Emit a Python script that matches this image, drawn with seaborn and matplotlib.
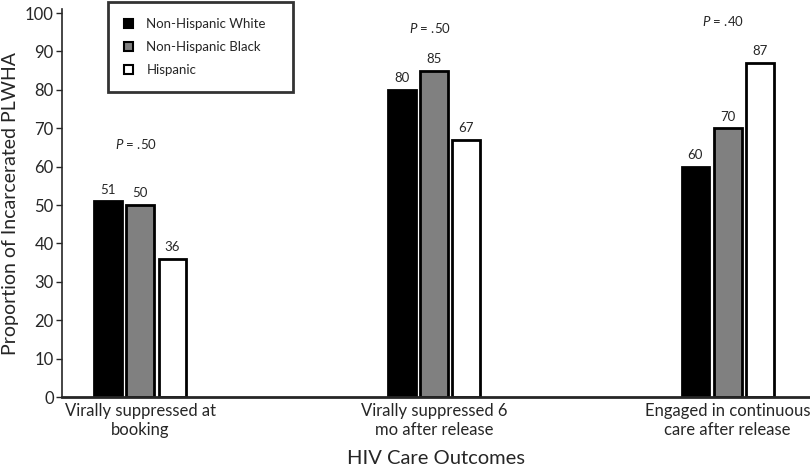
import numpy as np
import pandas as pd
import matplotlib
matplotlib.use("Agg")
import matplotlib.pyplot as plt
import seaborn as sns

# -------- Data --------
OUTCOMES = ["Virally suppressed at\nbooking",
            "Virally suppressed 6\nmo after release",
            "Engaged in continuous\ncare after release"]
GROUPS = ["Non-Hispanic White", "Non-Hispanic Black", "Hispanic"]
WHITE_VALS = [51, 80, 60]
BLACK_VALS = [50, 85, 70]
HISP_VALS = [36, 67, 87]
P_TEXT = [".50", ".50", ".40"]
P_Y = [66, 96, 98]
COLORS = ["#000000", "#808080", "#ffffff"]

rows = []
for i, o in enumerate(OUTCOMES):
    for g, vals in zip(GROUPS, [WHITE_VALS, BLACK_VALS, HISP_VALS]):
        rows.append({"Outcome": o, "Group": g, "Value": vals[i]})
df = pd.DataFrame(rows)

# -------- Plot --------
sns.set_style("white")
plt.rcParams["font.family"] = ["Lato", "DejaVu Sans"]
plt.rcParams["mathtext.fontset"] = "custom"
plt.rcParams["mathtext.it"] = "Lato:italic"

fig = plt.figure(figsize=(8.1, 4.75), dpi=100)
ax = fig.add_axes([62 / 810, 1 - 397 / 475, 1 - 62 / 810, 384 / 475 * 1.01])

sns.barplot(data=df, x="Outcome", y="Value", hue="Group", hue_order=GROUPS,
            palette=COLORS, width=0.33, gap=0.14, edgecolor="black",
            linewidth=2, ax=ax, legend=True)

for cont in ax.containers:
    ax.bar_label(cont, padding=4, fontsize=9.5)

for i, (pt, py) in enumerate(zip(P_TEXT, P_Y)):
    ax.text(i - 0.015, py, r"$\it{P}$ = " + pt, ha="center", va="center", fontsize=9.5)

ax.set_xlim(-0.266, 2.28)
ax.set_ylim(0, 101)
ax.set_yticks(range(0, 101, 10))
ax.tick_params(axis="y", length=4, width=1, labelsize=12, pad=2, left=True)
ax.tick_params(axis="x", length=0, labelsize=12, pad=4)
for lbl in ax.get_xticklabels():
    lbl.set_linespacing(1.3)
sns.despine(ax=ax, top=True, right=True)
ax.spines["left"].set_linewidth(1.2)
ax.spines["bottom"].set_linewidth(2)
ax.set_xlabel("HIV Care Outcomes", fontsize=14.5, labelpad=8)
ax.set_ylabel("Proportion of Incarcerated PLWHA", fontsize=14, labelpad=4)

leg = ax.legend(loc="upper left",
                bbox_to_anchor=(108 / 810, 1 - 90 / 475, 185 / 810, 88 / 475),
                bbox_transform=fig.transFigure, mode="expand", fontsize=9.5,
                frameon=True, fancybox=False, handlelength=0.7,
                handleheight=0.7, borderpad=1.2, labelspacing=0.85,
                handletextpad=1.0, borderaxespad=0)
leg.get_frame().set_edgecolor("black")
leg.get_frame().set_linewidth(2)
for h in leg.legend_handles:
    h.set_linewidth(1.5)

fig.savefig("out.png", dpi=100)
